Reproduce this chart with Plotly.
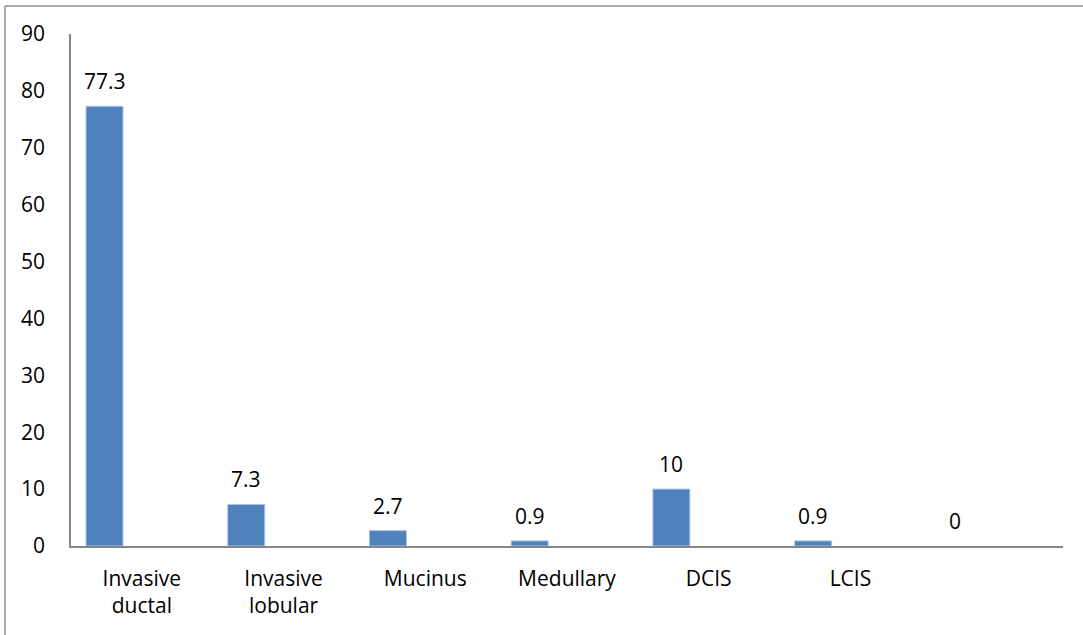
import plotly.graph_objects as go

# Histological types and their share (%)
categories = ["Invasive<br>ductal", "Invasive<br>lobular", "Mucinus", "Medullary", "DCIS", "LCIS", ""]
values = [77.3, 7.3, 2.7, 0.9, 10, 0.9, 0]
y_ticks = [0, 10, 20, 30, 40, 50, 60, 70, 80, 90]

positions = list(range(len(categories)))
bar_offset = -0.394
bar_width = 0.261
label_x = [p + bar_offset + bar_width / 2 for p in positions]

FONT = "Open Sans"
FONT_SIZE = 21
AXIS_GREY = "#868686"

fig = go.Figure()
fig.add_trace(go.Bar(
    x=positions,
    y=values,
    offset=bar_offset,
    width=bar_width,
    marker=dict(color="#4F81BD",
                line=dict(color="#A9C4E6", width=[1 if v > 0 else 0 for v in values])),
    hoverinfo="skip",
))

# value labels above each bar
for x, v in zip(label_x, values):
    fig.add_annotation(
        x=x, y=v, xref="x", yref="y",
        text=f"{v:g}", showarrow=False,
        yanchor="bottom", yshift=9,
        font=dict(family=FONT, size=FONT_SIZE, color="#000000"),
    )

# chart frame (top and left edges visible)
frame = dict(color="#8C8C8C", width=1.5)
fig.add_shape(type="line", xref="paper", yref="paper",
              x0=(5 - 71) / 992, x1=1.2, y0=1 + (34 - 6) / 512, y1=1 + (34 - 6) / 512,
              line=frame)
fig.add_shape(type="line", xref="paper", yref="paper",
              x0=(5 - 71) / 992, x1=(5 - 71) / 992, y0=1 + (34 - 6) / 512, y1=-0.3,
              line=frame)

fig.update_layout(
    width=1083, height=635,
    margin=dict(l=71, r=20, t=34, b=89),
    paper_bgcolor="white", plot_bgcolor="white",
    showlegend=False,
    font=dict(family=FONT, size=FONT_SIZE, color="#000000"),
    xaxis=dict(
        range=[-0.5, len(categories) - 0.5],
        tickvals=positions, ticktext=categories,
        showgrid=False, zeroline=False,
        showline=True, linecolor=AXIS_GREY, linewidth=1.5,
        ticks="", ticklabelstandoff=13,
        tickfont=dict(family=FONT, size=FONT_SIZE),
        fixedrange=True,
    ),
    yaxis=dict(
        range=[0, 90],
        tickvals=y_ticks,
        showgrid=False, zeroline=False,
        showline=True, linecolor=AXIS_GREY, linewidth=1.5,
        ticks="", ticklabelstandoff=20,
        tickfont=dict(family=FONT, size=FONT_SIZE),
        fixedrange=True,
    ),
)

fig.write_html("out.html")
